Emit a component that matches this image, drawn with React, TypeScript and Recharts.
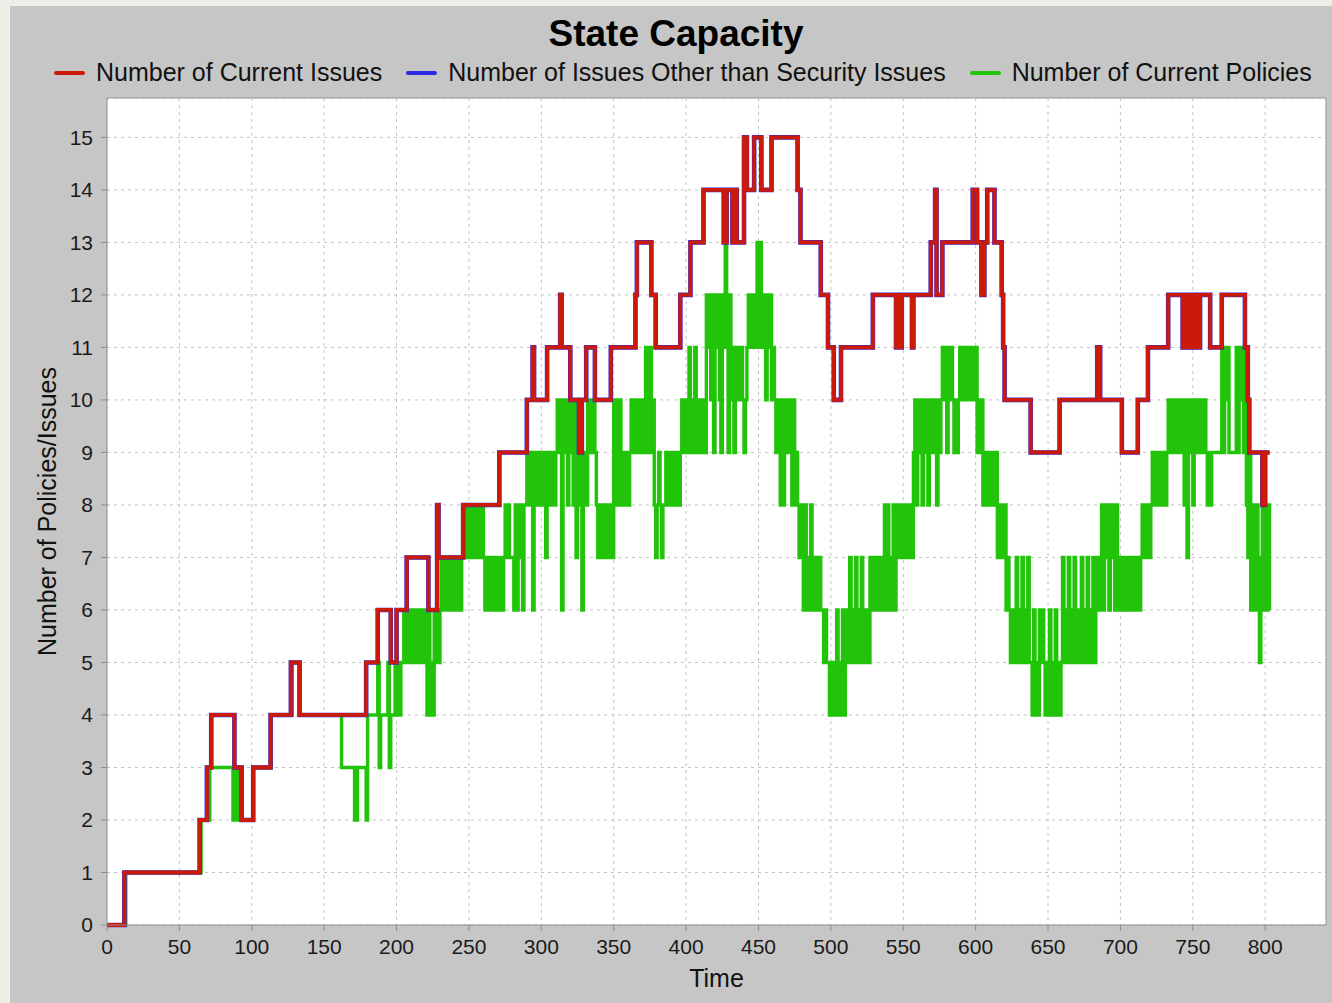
import { LineChart, Line, XAxis, YAxis, CartesianGrid, ReferenceLine } from 'recharts';

// series meta (drawing order: policies under, red issues on top)
const SERIES = [
  { key: 'issues', name: 'Number of Current Issues', color: '#cc1a0a' },
  { key: 'other', name: 'Number of Issues Other than Security Issues', color: '#2a2ae0' },
  { key: 'policies', name: 'Number of Current Policies', color: '#22c40a' },
];

const X_TICKS = [0, 50, 100, 150, 200, 250, 300, 350, 400, 450, 500, 550, 600, 650, 700, 750, 800];
const Y_TICKS = [0, 1, 2, 3, 4, 5, 6, 7, 8, 9, 10, 11, 12, 13, 14, 15];
const LAST_T = 803;

// [time, value] : value holds until the next change
const issueSteps: [number, number][] = [
  [0, 0], [12, 1], [64, 2], [69, 3], [72, 4], [88, 3], [93, 2], [101, 3], [113, 4], [127, 5], [133, 4],
  [179, 5], [187, 6], [196, 5], [200, 6], [207, 7], [222, 6], [228, 8], [229, 7], [246, 8], [271, 9],
  [290, 10], [294, 11], [295, 10], [304, 11], [313, 12], [314, 11], [320, 10], [326, 9], [328, 10],
  [331, 11], [337, 10], [348, 11], [365, 12], [366, 13], [376, 12], [379, 11], [396, 12], [403, 13],
  [412, 14], [426, 13], [428, 14], [432, 13], [434, 14], [435, 13], [440, 15], [442, 14], [447, 15],
  [452, 14], [459, 15], [477, 14], [479, 13], [493, 12], [498, 11], [502, 10], [507, 11], [529, 12],
  [545, 11], [546, 12], [548, 11], [549, 12], [556, 11], [557, 12], [569, 13], [572, 14], [573, 12],
  [577, 13], [598, 14], [601, 13], [604, 12], [606, 13], [608, 14], [613, 13], [618, 12], [619, 11],
  [620, 10], [638, 9], [658, 10], [684, 11], [686, 10], [701, 9], [712, 10], [719, 11], [733, 12],
  [743, 11], [744, 12], [745, 11], [746, 12], [747, 11], [749, 12], [750, 11], [752, 12], [753, 11],
  [755, 12], [762, 11], [770, 12], [786, 11], [788, 10], [789, 9], [798, 8], [800, 9],
];

// the blue series sits exactly under the red one in the picture
const otherIssueSteps: [number, number][] = issueSteps;

// [start time, one hex digit per time step]; last digit holds until next entry
const policySteps: [number, string][] = [
  [0, '0'], [13, '1'], [65, '2'], [71, '3'], [87, '23232'], [92, '3'], [93, '2'], [101, '3'],
  [113, '4'], [128, '5'], [133, '4'], [162, '3'], [171, '223'], [179, '2'], [180, '4'],
  [187, '534'], [194, '534'], [198, '454545'], [204, '5656565656565'], [217, '6565'],
  [221, '464546'], [227, '565'], [230, '6767676767676767'], [246, '787878787878787'],
  [261, '6767676767676'], [274, '7878'], [278, '777'], [281, '68687868'],
  [289, '8989869898989879898989'], [311, 'a9a6a9a8a9a8a7'], [325, '9896898'], [332, 'a9a9a9'],
  [338, '878787878787'], [350, 'a8a8a'], [355, '9898989'], [362, 'a9a9a9'], [368, 'a9a9b9ab9a'],
  [378, '8789878'], [385, '898989898989'], [397, 'a9a9ab9a9b9a'], [409, '9a9a9'],
  [414, 'cbcac9cbca9c'], [426, 'bdb9cab9'], [434, 'bababa9ab'], [443, 'cbcbcb'], [449, 'dbdcb'],
  [454, 'cacbcab'], [461, 'a9a98a89a9a98a898'], [478, '7876876786767676'], [494, '6565'],
  [498, '5454546454645'], [511, '6575657565756565'], [527, '7676767676'], [537, '868676868'],
  [546, '78787878787'], [557, '9a8a9a8a9a8a9'], [570, 'a9a8a9a'], [577, 'bab9bab'], [584, 'a9a9a'],
  [589, 'bab'], [592, 'babababab'], [601, '9a9a'], [605, '8989898989'], [615, '787878'],
  [621, '676565'], [627, '57565756575'], [638, '546454'], [644, '6565'], [648, '45464546454'],
  [659, '575657565756'], [671, '657565756575'], [683, '6767'], [687, '86878687868'],
  [698, '76767676767676767'], [715, '8787878'], [722, '98989898989'], [733, 'a9a9a9a9a9a'],
  [744, '8a7a9a89'], [752, 'a9a9a9a98989'], [764, '999999'], [770, 'b9bab9'], [776, '9999'],
  [780, 'b9bab9b'], [787, '879'], [790, '68768657868686'],
];

function holdSteps(steps: [number, number][]) {
  const out: number[] = [];
  steps.forEach(([start, v], i) => {
    const next = i + 1 < steps.length ? steps[i + 1][0] : LAST_T + 1;
    for (let t = start; t < next; t++) out[t] = v;
  });
  return out;
}

function patternSteps(steps: [number, string][]) {
  const out: number[] = [];
  steps.forEach(([start, pat], i) => {
    const next = i + 1 < steps.length ? steps[i + 1][0] : LAST_T + 1;
    for (let t = start; t < next; t++) {
      out[t] = parseInt(pat[Math.min(t - start, pat.length - 1)], 16);
    }
  });
  return out;
}

const issues = holdSteps(issueSteps);
const other = holdSteps(otherIssueSteps);
const policies = patternSteps(policySteps);
const data = issues.map((v, t) => ({ t, issues: v, other: other[t], policies: policies[t] }));

const FONT = '"Liberation Sans", Arial, Helvetica, sans-serif';

export default function App() {
  return (
    <div style={{ position: 'absolute', left: 0, top: 0, width: 1332, height: 1003, background: '#efeee6', fontFamily: FONT, overflow: 'hidden' }}>
      <div style={{ position: 'absolute', left: 10, top: 6, width: 1322, height: 997, background: '#c6c6c6' }}>
        <div style={{ position: 'absolute', left: 5, width: 1322, top: 9, textAlign: 'center', fontSize: 37, fontWeight: 'bold', lineHeight: '37px', color: '#000' }}>
          State Capacity
        </div>
        <div style={{ position: 'absolute', left: 44, top: 54, display: 'flex', alignItems: 'center', fontSize: 25, lineHeight: '25px', color: '#111', whiteSpace: 'nowrap' }}>
          {SERIES.map((s) => (
            <div key={s.key} style={{ display: 'flex', alignItems: 'center', marginRight: 24 }}>
              <span style={{ display: 'inline-block', width: 31, height: 4, background: s.color, marginRight: 11, borderRadius: 2 }} />
              <span>{s.name}</span>
            </div>
          ))}
        </div>
        <LineChart width={1322} height={997} data={data} margin={{ top: 92, right: 6, left: 37, bottom: 16 }} style={{ position: 'absolute', left: 0, top: 0 }}>
          <CartesianGrid stroke="#c2c2c2" strokeDasharray="3 4" fill="#ffffff" />
          <XAxis
            dataKey="t"
            type="number"
            domain={[0, 842]}
            ticks={X_TICKS}
            interval={0}
            height={62}
            tickSize={6}
            tickMargin={8}
            stroke="#8c8c8c"
            tick={{ fill: '#1a1a1a', fontSize: 21, fontFamily: FONT }}
            label={{
              value: 'Time',
              content: (p: any) => (
                <text x={p.viewBox.x + p.viewBox.width / 2} y={p.viewBox.y + 62} textAnchor="middle" fontSize={25} fontFamily={FONT} fill="#111">
                  Time
                </text>
              ),
            }}
          />
          <YAxis
            type="number"
            domain={[0, 15.75]}
            ticks={Y_TICKS}
            interval={0}
            width={60}
            tickSize={6}
            tickMargin={8}
            stroke="#8c8c8c"
            tick={{ fill: '#1a1a1a', fontSize: 21, fontFamily: FONT }}
            label={{
              value: 'Number of Policies/Issues',
              content: (p: any) => {
                const x = p.viewBox.x + 9;
                const y = p.viewBox.y + p.viewBox.height / 2;
                return (
                  <text x={x} y={y} transform={`rotate(-90, ${x}, ${y})`} textAnchor="middle" fontSize={25} fontFamily={FONT} fill="#111">
                    Number of Policies/Issues
                  </text>
                );
              },
            }}
          />
          <ReferenceLine y={15.75} stroke="#9a9a9a" />
          <ReferenceLine x={842} stroke="#9a9a9a" />
          <Line type="stepAfter" dataKey="policies" name={SERIES[2].name} stroke={SERIES[2].color} strokeWidth={3.4} dot={false} isAnimationActive={false} />
          <Line type="stepAfter" dataKey="other" name={SERIES[1].name} stroke={SERIES[1].color} strokeWidth={4.6} dot={false} isAnimationActive={false} />
          <Line type="stepAfter" dataKey="issues" name={SERIES[0].name} stroke={SERIES[0].color} strokeWidth={3.8} dot={false} isAnimationActive={false} />
        </LineChart>
      </div>
    </div>
  );
}
